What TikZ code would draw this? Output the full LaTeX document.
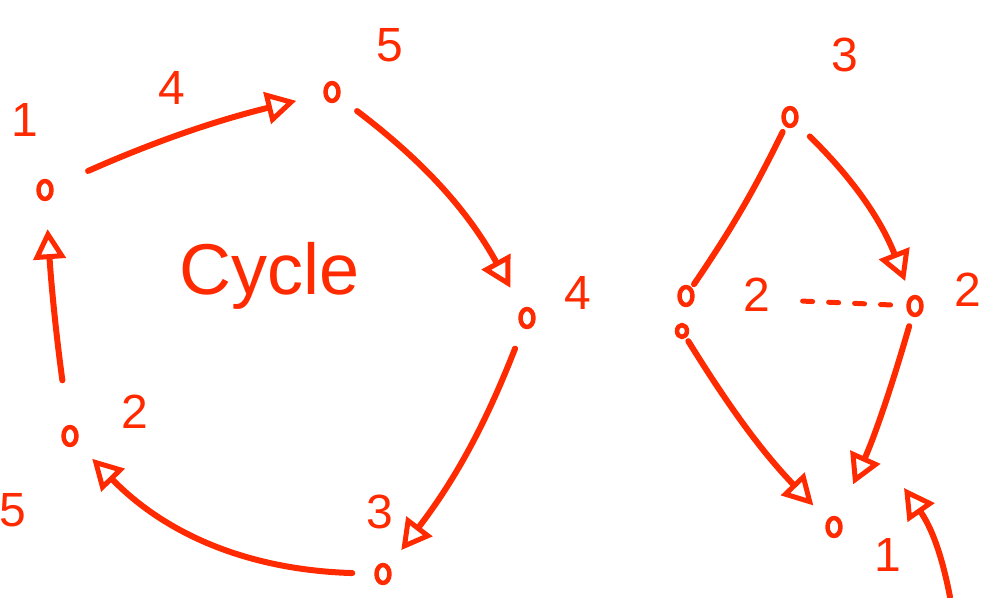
\documentclass[tikz,border=0pt]{standalone}
\usepackage{fontspec}
\setmainfont{Liberation Sans}
\usetikzlibrary{shapes.geometric,arrows.meta}
\definecolor{ink}{HTML}{FF2A00}
\begin{document}
\begin{tikzpicture}[x=1pt,y=-1pt,
  every path/.style={line cap=round,line join=round},
  vtx/.style={draw=ink,ellipse,line width=4.5pt,minimum width=13pt,minimum height=18pt,inner sep=0pt},
  smallvtx/.style={vtx,minimum width=10pt,minimum height=12pt},
  lbl/.style={text=ink,font=\fontsize{48}{50}\selectfont,inner sep=0pt},
  edge/.style={draw=ink,line width=6pt},
  arr/.style={edge,-{Triangle[open,length=30pt,width=32pt,line width=5pt]}},
  dashedge/.style={draw=ink,line width=5pt,dash pattern=on 10pt off 16pt}
]
\useasboundingbox (0,0) rectangle (990,597);
% ---- left: cycle ----
\node[vtx] (c1) at (45,190) {};
\node[vtx] (c5) at (332,92) {};
\node[vtx] (c4) at (527,318) {};
\node[vtx] (c3) at (383,574) {};
\node[vtx] (c2) at (70,436) {};
\node[lbl] (l1) at (25,120) {1};
\node[lbl] (l5) at (390,45) {5};
\node[lbl] (l4) at (578,293) {4};
\node[lbl] (l3) at (380,512) {3};
\node[lbl] (l2) at (135,412) {2};
\node[lbl] (l5b) at (13,510) {5};
\node[lbl] (w4) at (172,88) {4};
\node[text=ink,font=\fontsize{72}{74}\selectfont,inner sep=0pt] (cyc) at (270,276) {Cycle};
\draw[arr,shorten <=38pt,shorten >=28pt] (c1) to[bend left=5] (c5);
\draw[arr,shorten <=22pt,shorten >=24pt] (c5) to[bend left=12] (c4);
\draw[arr,shorten <=22pt,shorten >=20pt] (c4) to[bend left=8] (c3);
\draw[arr,shorten <=22pt,shorten >=22pt] (c3) to[bend left=22] (c2);
\draw[arr,shorten <=45pt,shorten >=28pt] (c2) to[bend left=2] (c1);
% ---- right graph ----
\node[vtx] (t) at (790,117) {};
\node[vtx] (l) at (686,296) {};
\node[smallvtx] (lb) at (682,331) {};
\node[vtx] (r) at (915,306) {};
\node[vtx] (b) at (834,527) {};
\node[lbl] (lt) at (845,55) {3};
\node[lbl] (ll) at (757,295) {2};
\node[lbl] (lr) at (968,290) {2};
\node[lbl] (lbb) at (888,555) {1};
\coordinate (src) at (950,597);
\draw[edge,shorten <=6pt,shorten >=4pt] (t) to[bend left=4] (l);
\draw[arr,shorten <=18pt,shorten >=16pt] (t) to[bend left=12] (r);
\draw[arr,shorten <=4pt,shorten >=20pt] (lb) to[bend right=6] (b);
\draw[arr,shorten <=10pt,shorten >=36pt] (r) to[bend left=4] (b);
\draw[dashedge,shorten <=108pt,shorten >=14pt] (l) -- (r);
\draw[arr] (src) to[bend right=12] (904,488);
\end{tikzpicture}
\end{document}
